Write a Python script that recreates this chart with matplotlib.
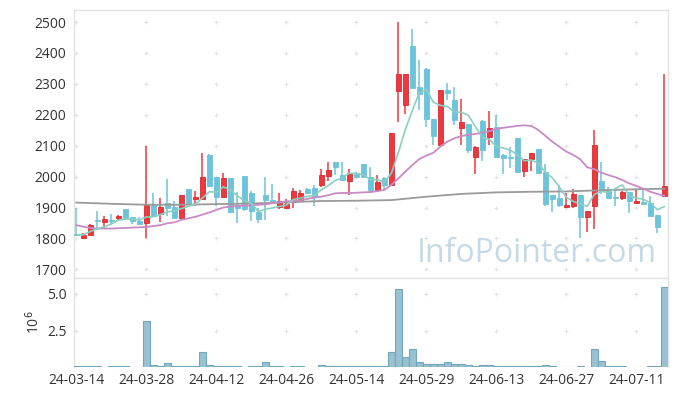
import matplotlib
matplotlib.use("Agg")
import matplotlib.pyplot as plt
import numpy as np
import pandas as pd

plt.rcParams['font.family'] = ['Open Sans', 'DejaVu Sans']

tick_labels = ["24-03-14", "24-03-28", "24-04-12", "24-04-26", "24-05-14",
               "24-05-29", "24-06-13", "24-06-27", "24-07-11"]

opens = [1815, 1803, 1811, 1860, 1853, 1861, 1865, 1895, 1868, 1858,
         1851, 1907, 1878, 1914, 1903, 1867, 1960, 1928, 1926, 2070,
         2000, 1935, 1995, 1908, 2001, 1946, 1886, 1940, 1923, 1903,
         1897, 1919, 1925, 1960, 1963, 1974, 2003, 2046, 2005, 1986,
         2013, 2041, 2000, 1957, 1994, 1973, 2278, 2232, 2422, 2289,
         2348, 2186, 2103, 2280, 2248, 2158, 2169, 2064, 2180, 2129,
         2161, 2070, 2062, 2124, 2019, 2056, 2088, 2016, 1940, 1932,
         1903, 1906, 1940, 1870, 1906, 1986, 1956, 1933, 1930, 1949,
         1915, 1919, 1916, 1876, 1938]
highs = [1900, 1817, 1848, 1889, 1873, 1879, 1877, 1895, 1869, 1868,
         2100, 1947, 1930, 1992, 1921, 1940, 1960, 1954, 2075, 2073,
         2000, 2013, 1995, 1951, 2002, 1952, 1900, 2000, 1975, 1946,
         1926, 1962, 1958, 1963, 1973, 2025, 2046, 2048, 2047, 2025,
         2016, 2042, 2030, 2005, 2000, 2141, 2500, 2332, 2476, 2377,
         2350, 2186, 2280, 2303, 2290, 2250, 2169, 2098, 2182, 2213,
         2199, 2072, 2095, 2124, 2058, 2076, 2088, 2040, 1942, 1973,
         1948, 1960, 1940, 1890, 2151, 2046, 1965, 1962, 1955, 1950,
         1956, 1962, 1938, 1876, 2332]
lows = [1808, 1797, 1810, 1827, 1831, 1845, 1858, 1860, 1848, 1846,
        1800, 1870, 1852, 1872, 1866, 1867, 1911, 1905, 1924, 1965,
        1905, 1932, 1887, 1849, 1890, 1855, 1851, 1860, 1915, 1895,
        1894, 1900, 1918, 1945, 1904, 1966, 1985, 2005, 1985, 1941,
        1998, 1995, 1946, 1955, 1960, 1973, 2178, 2201, 2288, 2215,
        2161, 2101, 2103, 2248, 2167, 2102, 2077, 2010, 2050, 2102,
        2060, 2010, 2027, 2014, 1999, 2019, 2012, 1905, 1886, 1903,
        1899, 1899, 1800, 1820, 1829, 1945, 1928, 1906, 1925, 1881,
        1913, 1910, 1873, 1816, 1938]
closes = [1812, 1811, 1845, 1858, 1862, 1858, 1871, 1866, 1855, 1848,
          1907, 1873, 1902, 1900, 1867, 1940, 1911, 1935, 1999, 1970,
          1935, 1995, 1887, 1900, 1895, 1890, 1863, 1924, 1920, 1920,
          1912, 1953, 1947, 1948, 1935, 2004, 2021, 2030, 1988, 2012,
          2000, 1998, 1957, 1983, 1973, 2141, 2332, 2332, 2288, 2267,
          2186, 2132, 2280, 2269, 2183, 2176, 2086, 2097, 2086, 2157,
          2064, 2060, 2060, 2016, 2056, 2075, 2012, 1911, 1927, 1908,
          1908, 1944, 1870, 1889, 2102, 1955, 1930, 1931, 1949, 1922,
          1921, 1912, 1873, 1838, 1970]
volume_m = [0.07, 0.07, 0.07, 0.07, 0.0, 0.07, 0.07, 0.07, 0.0, 0.0,
            3.15, 0.20, 0.12, 0.31, 0.12, 0.12, 0.07, 0.07, 1.06, 0.18,
            0.12, 0.12, 0.12, 0.07, 0.0, 0.07, 0.07, 0.40, 0.12, 0.07,
            0.0, 0.12, 0.07, 0.0, 0.0, 0.20, 0.12, 0.07, 0.07, 0.12,
            0.07, 0.07, 0.07, 0.07, 0.07, 1.06, 5.33, 0.72, 1.26, 0.40,
            0.25, 0.25, 0.25, 0.40, 0.25, 0.25, 0.18, 0.12, 0.18, 0.18,
            0.12, 0.07, 0.07, 0.12, 0.07, 0.07, 0.07, 0.18, 0.07, 0.0,
            0.0, 0.0, 0.12, 0.0, 1.22, 0.47, 0.07, 0.07, 0.07, 0.0,
            0.0, 0.0, 0.07, 0.12, 5.45]
ma20 = [1843, 1838, 1834, 1832, 1832, 1832, 1833, 1834, 1835, 1836,
        1837, 1840, 1843, 1849, 1852, 1860, 1865, 1870, 1877, 1884,
        1892, 1900, 1903, 1905, 1906, 1907, 1909, 1910, 1914, 1917,
        1920, 1921, 1923, 1928, 1932, 1935, 1940, 1946, 1947, 1947,
        1948, 1949, 1950, 1953, 1957, 1973, 1994, 2016, 2037, 2057,
        2068, 2077, 2097, 2113, 2124, 2131, 2135, 2138, 2142, 2147,
        2154, 2158, 2161, 2164, 2166, 2164, 2151, 2132, 2113, 2097,
        2081, 2070, 2056, 2030, 2024, 2013, 2005, 1998, 1989, 1978,
        1970, 1961, 1951, 1944, 1938]
ma120_idx = [0, 5, 10, 15, 20, 25, 30, 35, 40, 45, 50, 55, 60, 65, 70, 75, 80, 84]
ma120 = [1916, 1912, 1909, 1909, 1911, 1913, 1917, 1921, 1922, 1924,
         1935, 1944, 1949, 1951, 1952, 1956, 1959, 1961]

x = np.arange(len(closes))
o = np.array(opens, float)
h = np.array(highs, float)
l = np.array(lows, float)
c = np.array(closes, float)
ma5 = pd.Series(c).rolling(5, min_periods=1).mean().values

RED = '#ee383e'
RED_EDGE = '#d82a30'
BLUE = '#6cc3da'
GRID = '#e3e3e3'

fig = plt.figure(figsize=(6.77, 3.96), dpi=100)
ax = fig.add_axes([0.1086, 0.298, 0.8774, 0.6767])
axv = fig.add_axes([0.1086, 0.072, 0.8774, 0.226], sharex=ax)

up = c >= o
colors = np.where(up, RED, BLUE)
edges = np.where(up, RED_EDGE, BLUE)
bottom = np.minimum(o, c)
height = np.maximum(np.abs(c - o), 3.0)

ax.vlines(x, l, h, colors=colors, linewidth=1.1, zorder=2)
ax.bar(x, height, bottom=bottom, width=0.7, color=colors, edgecolor=edges,
       linewidth=0.6, zorder=3)

ax.plot(ma120_idx, ma120, color='#9a9a9a', lw=1.3, zorder=4)
ax.plot(x, ma20, color='#c98ac5', lw=1.3, zorder=4)
ax.plot(x, ma5, color='#8ccfc0', lw=1.2, zorder=4)

axv.bar(x, volume_m, width=1.0, color='#9ac1d1', edgecolor='#74a6ba',
        linewidth=0.8, zorder=3)

xt = list(range(0, len(closes), 10))
yt = list(range(1700, 2501, 100))
vt = [2.5, 5.0]

gx, gy = np.meshgrid(xt, yt)
ax.scatter(gx.ravel(), gy.ravel(), marker='+', s=11, color=GRID, linewidths=0.8, zorder=0)
gx2, gy2 = np.meshgrid(xt, vt)
axv.scatter(gx2.ravel(), gy2.ravel(), marker='+', s=11, color=GRID, linewidths=0.8, zorder=0)

ax.text(0.78, 0.09, "InfoPointer.com", transform=ax.transAxes, fontsize=23,
        color='#c6dae5', ha='center', va='center', zorder=1)

ax.set_xlim(-0.4, 84.46)
ax.set_ylim(1672, 2539)
axv.set_ylim(0, 6.06)

ax.set_yticks(yt)
ax.set_yticklabels([str(v) for v in yt])
axv.set_yticks(vt)
axv.set_yticklabels(["2.5", "5.0"])
axv.set_xticks(xt)
axv.set_xticklabels(tick_labels)
axv.set_ylabel("10$^6$", fontsize=10, color='#333333', labelpad=3)

ax.tick_params(axis='x', which='both', length=0, labelbottom=False)
ax.tick_params(axis='y', length=0, labelsize=10, colors='#333333', pad=5)
axv.tick_params(axis='y', length=0, labelsize=10, colors='#333333', pad=5)
axv.tick_params(axis='x', length=0, labelsize=10, colors='#333333', pad=4)

for a in (ax, axv):
    for s in a.spines.values():
        s.set_color('#e2e2e2')
        s.set_linewidth(1.0)
axv.spines['bottom'].set_visible(False)

fig.savefig("out.png", dpi=100)
